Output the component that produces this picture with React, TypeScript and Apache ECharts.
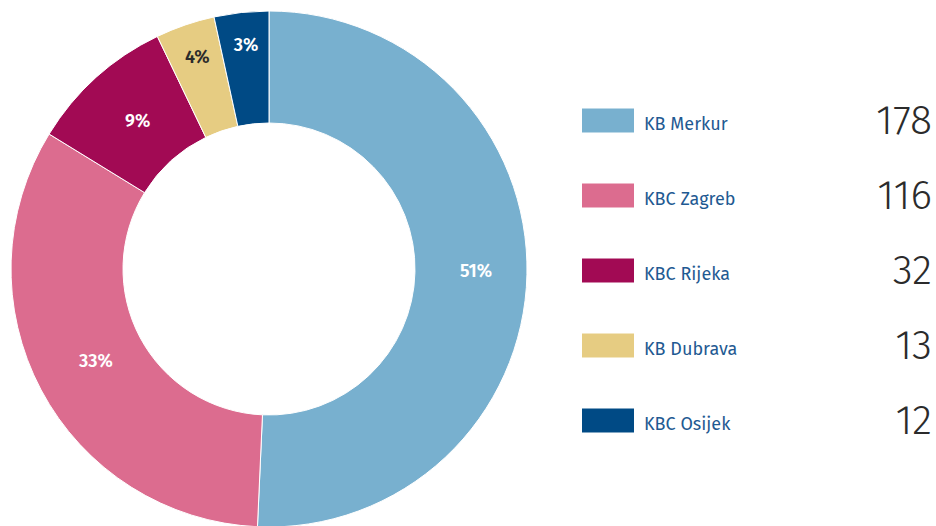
import React, { useEffect, useRef } from "react";
import * as echarts from "echarts";

const categories = ["KB Merkur", "KBC Zagreb", "KBC Rijeka", "KB Dubrava", "KBC Osijek"];
const values = [178, 116, 32, 13, 12];
const colors = ["#78b0cf", "#dc6c8f", "#a20a54", "#e6cc82", "#004a85"];
const labelColors = ["#ffffff", "#ffffff", "#ffffff", "#2b2b2b", "#ffffff"];
// small visual nudges of the percent labels [dx, dy] in px
const labelShift: [number, number][] = [[2, -3], [8, -4], [6, 4], [-5, -18], [-1, -20]];

export default function App() {
  const ref = useRef<HTMLDivElement>(null);
  useEffect(() => {
    document.body.style.margin = "0";
    const chart = echarts.init(ref.current!, null, { renderer: "svg" });
    const valueByName: Record<string, number> = {};
    categories.forEach((c, i) => (valueByName[c] = values[i]));
    chart.setOption({
      animation: false,
      backgroundColor: "#ffffff",
      legend: {
        orient: "vertical",
        left: 580,
        top: 100,
        padding: 0,
        itemWidth: 54,
        itemHeight: 26,
        itemGap: 34,
        icon: "rect",
        selectedMode: false,
        data: categories,
        formatter: (name: string) => `{n|${name}}{v|${valueByName[name]}}`,
        textStyle: {
          rich: {
            n: {
              fontFamily: "'Fira Sans', 'Open Sans', sans-serif",
              fontSize: 18,
              color: "#1f5a92",
              width: 190,
              lineHeight: 26,
              padding: [7, 0, 0, 4],
            },
            v: {
              fontFamily: "'Fira Sans', Roboto, sans-serif",
              fontWeight: 300,
              fontSize: 41,
              color: "#2b2b2b",
              width: 98,
              align: "right",
              lineHeight: 26,
            },
          },
        },
      },
      series: [
        {
          type: "pie",
          center: [269, 269],
          radius: [146, 258],
          startAngle: 90,
          clockwise: true,
          itemStyle: { borderColor: "#ffffff", borderWidth: 1 },
          label: {
            show: true,
            position: "inside",
            fontFamily: "'Fira Sans', 'Open Sans', sans-serif",
            fontWeight: 600,
            fontSize: 18,
            formatter: (p: any) => Math.round(p.percent) + "%",
          },
          labelLayout: (p: any) => ({ dx: labelShift[p.dataIndex][0], dy: labelShift[p.dataIndex][1] }),
          labelLine: { show: false },
          emphasis: { disabled: true },
          data: categories.map((c, i) => ({
            name: c,
            value: values[i],
            itemStyle: { color: colors[i] },
            label: { color: labelColors[i] },
          })),
        },
      ],
    });
    return () => chart.dispose();
  }, []);
  return <div ref={ref} style={{ width: 936, height: 526 }} />;
}
